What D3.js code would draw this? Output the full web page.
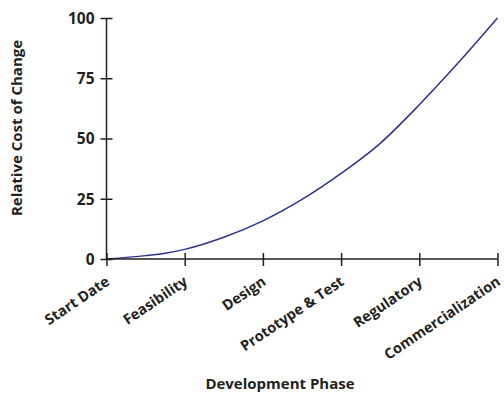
<!DOCTYPE html>
<html><head><meta charset="utf-8">
<script src="https://cdn.jsdelivr.net/npm/d3@7"></script>
<style>
body{margin:0;background:#fff;}
text{font-family:"Open Sans","Noto Sans",sans-serif;font-weight:700;fill:#231f20;}
</style></head>
<body><svg id="c" width="504" height="394"></svg>
<script>
const phases = ["Start Date","Feasibility","Design","Prototype & Test","Regulatory","Commercialization"];
const yTicks = [0,25,50,75,100];
const curveT = [0,0.5,0.75,1,1.5,2,2.5,3,3.5,4,4.5,5];
const curveV = [0,1.4,2.4,4.0,9.0,15.8,24.7,35.5,48.0,64.0,81.5,100];
const xTitle = "Development Phase";
const yTitle = "Relative Cost of Change";

const svg = d3.select("#c");
const x = d3.scaleLinear().domain([0,phases.length-1]).range([106.5,497.5]);
const y = d3.scaleLinear().domain([0,100]).range([259,18]);

// line
const pts = curveT.map((t,i)=>[t,curveV[i]]);
svg.append("path").datum(pts)
  .attr("fill","none").attr("stroke","#2e3192").attr("stroke-width",1.5)
  .attr("d", d3.line().x(d=>x(d[0])).y(d=>y(d[1])).curve(d3.curveMonotoneX));

// y axis
const ya = svg.append("g").attr("transform","translate(106.5,0)")
  .call(d3.axisLeft(y).tickValues(yTicks).tickSize(6).tickPadding(6));
ya.selectAll(".tick line").attr("x1",6).attr("x2",-6);
ya.select(".domain").attr("d",`M0,${y(100)}V${y(0)}`);
ya.selectAll("path,line").attr("stroke","#231f20").attr("stroke-width",1.5);
ya.selectAll("text").attr("font-size",15.5).attr("font-family",null).attr("dy","0.35em")
  .style("font-weight",700);

// x axis
const xa = svg.append("g").attr("transform","translate(0,259)")
  .call(d3.axisBottom(x).tickValues(d3.range(phases.length)).tickSize(6).tickFormat(""));
xa.selectAll(".tick line").attr("y1",-6).attr("y2",7);
xa.select(".domain").attr("d",`M${x(0)},0H${x(5)}`);
xa.selectAll("path,line").attr("stroke","#231f20").attr("stroke-width",1.5);

svg.append("g").selectAll("text").data(phases).join("text")
  .attr("transform",(d,i)=>`translate(${x(i)+4},284) rotate(-34)`)
  .attr("text-anchor","end").attr("font-size",14.5).text(d=>d);

svg.append("text").attr("x",280).attr("y",389).attr("text-anchor","middle")
  .attr("font-size",15).text(xTitle);
svg.append("text").attr("transform","translate(22,128) rotate(-90)")
  .attr("text-anchor","middle").attr("font-size",15).text(yTitle);
</script></body></html>
